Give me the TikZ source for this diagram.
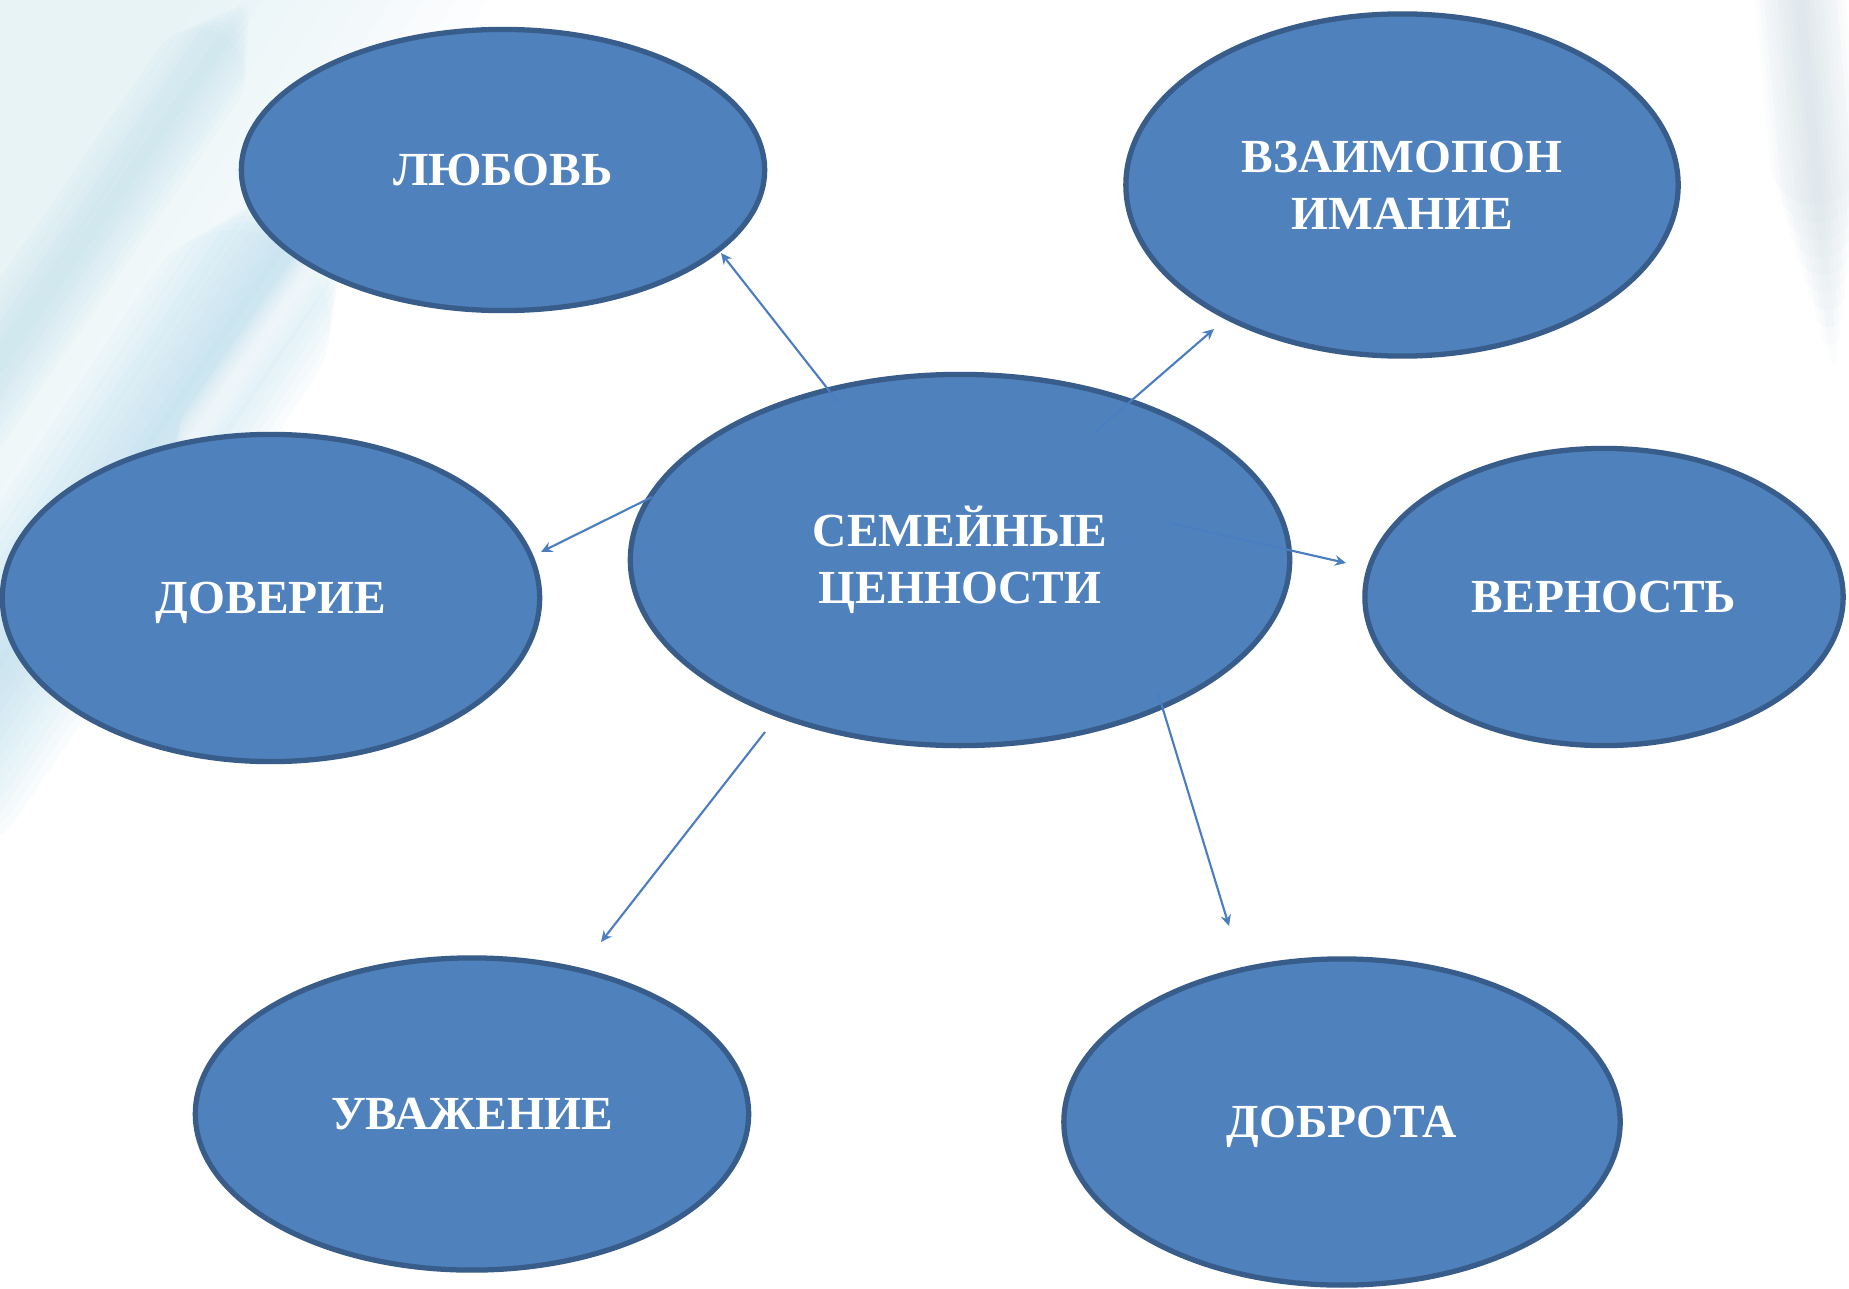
\documentclass[tikz,border=0pt]{standalone}
\usepackage{fontspec}
\setmainfont{Liberation Serif}
\usetikzlibrary{shapes.geometric,arrows.meta,calc}
\definecolor{efill}{HTML}{4F81BD}
\definecolor{eline}{HTML}{385D8A}
\definecolor{arr}{HTML}{4A7EC0}
\definecolor{haze}{HTML}{D9EEF5}
\definecolor{streak}{HTML}{A9D8EA}
\definecolor{rstreak}{HTML}{C9DAE2}
\begin{document}
\begin{tikzpicture}[x=0.01cm,y=-0.01cm,
  val/.style={ellipse, draw=eline, line width=1.5pt, fill=efill, text=white,
    font=\bfseries\fontsize{13.5}{16.2}\selectfont, align=center, inner sep=0pt},
  oneline/.style={text height=8.9pt, text depth=0pt},
  link/.style={draw=arr, line width=0.6pt, -{Stealth[length=3.2pt,width=3pt,inset=1.1pt]}}]
\useasboundingbox (0,0) rectangle (1849,1288);
\fill[white] (0,0) rectangle (1849,1288);
% background haze (soft, layered)
\foreach \k in {1,...,10}{
  \fill[haze, opacity=0.07] (0,0) -- ({520-32*\k},0) -- (0,{760-45*\k}) -- cycle;
}
% soft cyan streaks, tapering at their upper ends
\coordinate (ma) at (360,140); \coordinate (mb) at (-60,760);
\foreach \k in {1,...,12}{
  \draw[streak, line width={\k*0.16cm}, opacity=0.06, line cap=round]
    ($(ma)!{\k*0.025}!(mb)$) -- (mb);
}
\coordinate (na) at (250,0); \coordinate (nb) at (-80,480);
\foreach \k in {1,...,8}{
  \draw[streak, line width={\k*0.12cm}, opacity=0.05, line cap=round]
    ($(na)!{\k*0.02}!(nb)$) -- (nb);
}
% soft white streak
\foreach \k in {1,...,6}{
  \draw[white, line width={\k*0.07cm}, opacity=0.15, line cap=round]
    ($(340,230)!{\k*0.03}!(170,470)$) -- ($(170,470)!{\k*0.03}!(340,230)$);
}
% right edge streak, tapering downwards
\coordinate (ra) at (1795,-60); \coordinate (rb) at (1835,380);
\foreach \k in {1,...,10}{
  \draw[rstreak, line width={\k*0.09cm}, opacity=0.07, line cap=round]
    (ra) -- ($(rb)!{\k*0.05}!(ra)$);
}
% nodes
\node[val, minimum width=6.59cm, minimum height=3.71cm] (c) at (960,560) {СЕМЕЙНЫЕ\\ЦЕННОСТИ};
\node[val, oneline, minimum width=5.23cm, minimum height=2.81cm] (lub) at (503,170) {ЛЮБОВЬ};
\node[val, minimum width=5.52cm, minimum height=3.42cm] (vz) at (1402,185) {ВЗАИМОПОН\\ИМАНИЕ};
\node[val, oneline, minimum width=5.37cm, minimum height=3.27cm] (dov) at (271,598) {ДОВЕРИЕ};
\node[val, oneline, minimum width=4.78cm, minimum height=2.97cm] (ver) at (1604,597) {ВЕРНОСТЬ};
\node[val, oneline, minimum width=5.53cm, minimum height=3.12cm] (uv) at (472,1114) {УВАЖЕНИЕ};
\node[val, oneline, minimum width=5.56cm, minimum height=3.26cm] (dob) at (1342,1122) {ДОБРОТА};
% arrow end points
\coordinate (s1) at (838,402);  \coordinate (e1) at (721,253);
\coordinate (s2) at (1095,432); \coordinate (e2) at (1214,329);
\coordinate (s3) at (652,497);  \coordinate (e3) at (541,552);
\coordinate (s4) at (1170,523); \coordinate (e4) at (1346,563);
\coordinate (s5) at (765,732);  \coordinate (e5) at (601,942);
\coordinate (s6) at (1158,693); \coordinate (e6) at (1229,926);
\draw[link] (s1) -- (e1);
\draw[link] (s2) -- (e2);
\draw[link] (s3) -- (e3);
\draw[link] (s4) -- (e4);
\draw[link] (s5) -- (e5);
\draw[link] (s6) -- (e6);
\end{tikzpicture}
\end{document}
